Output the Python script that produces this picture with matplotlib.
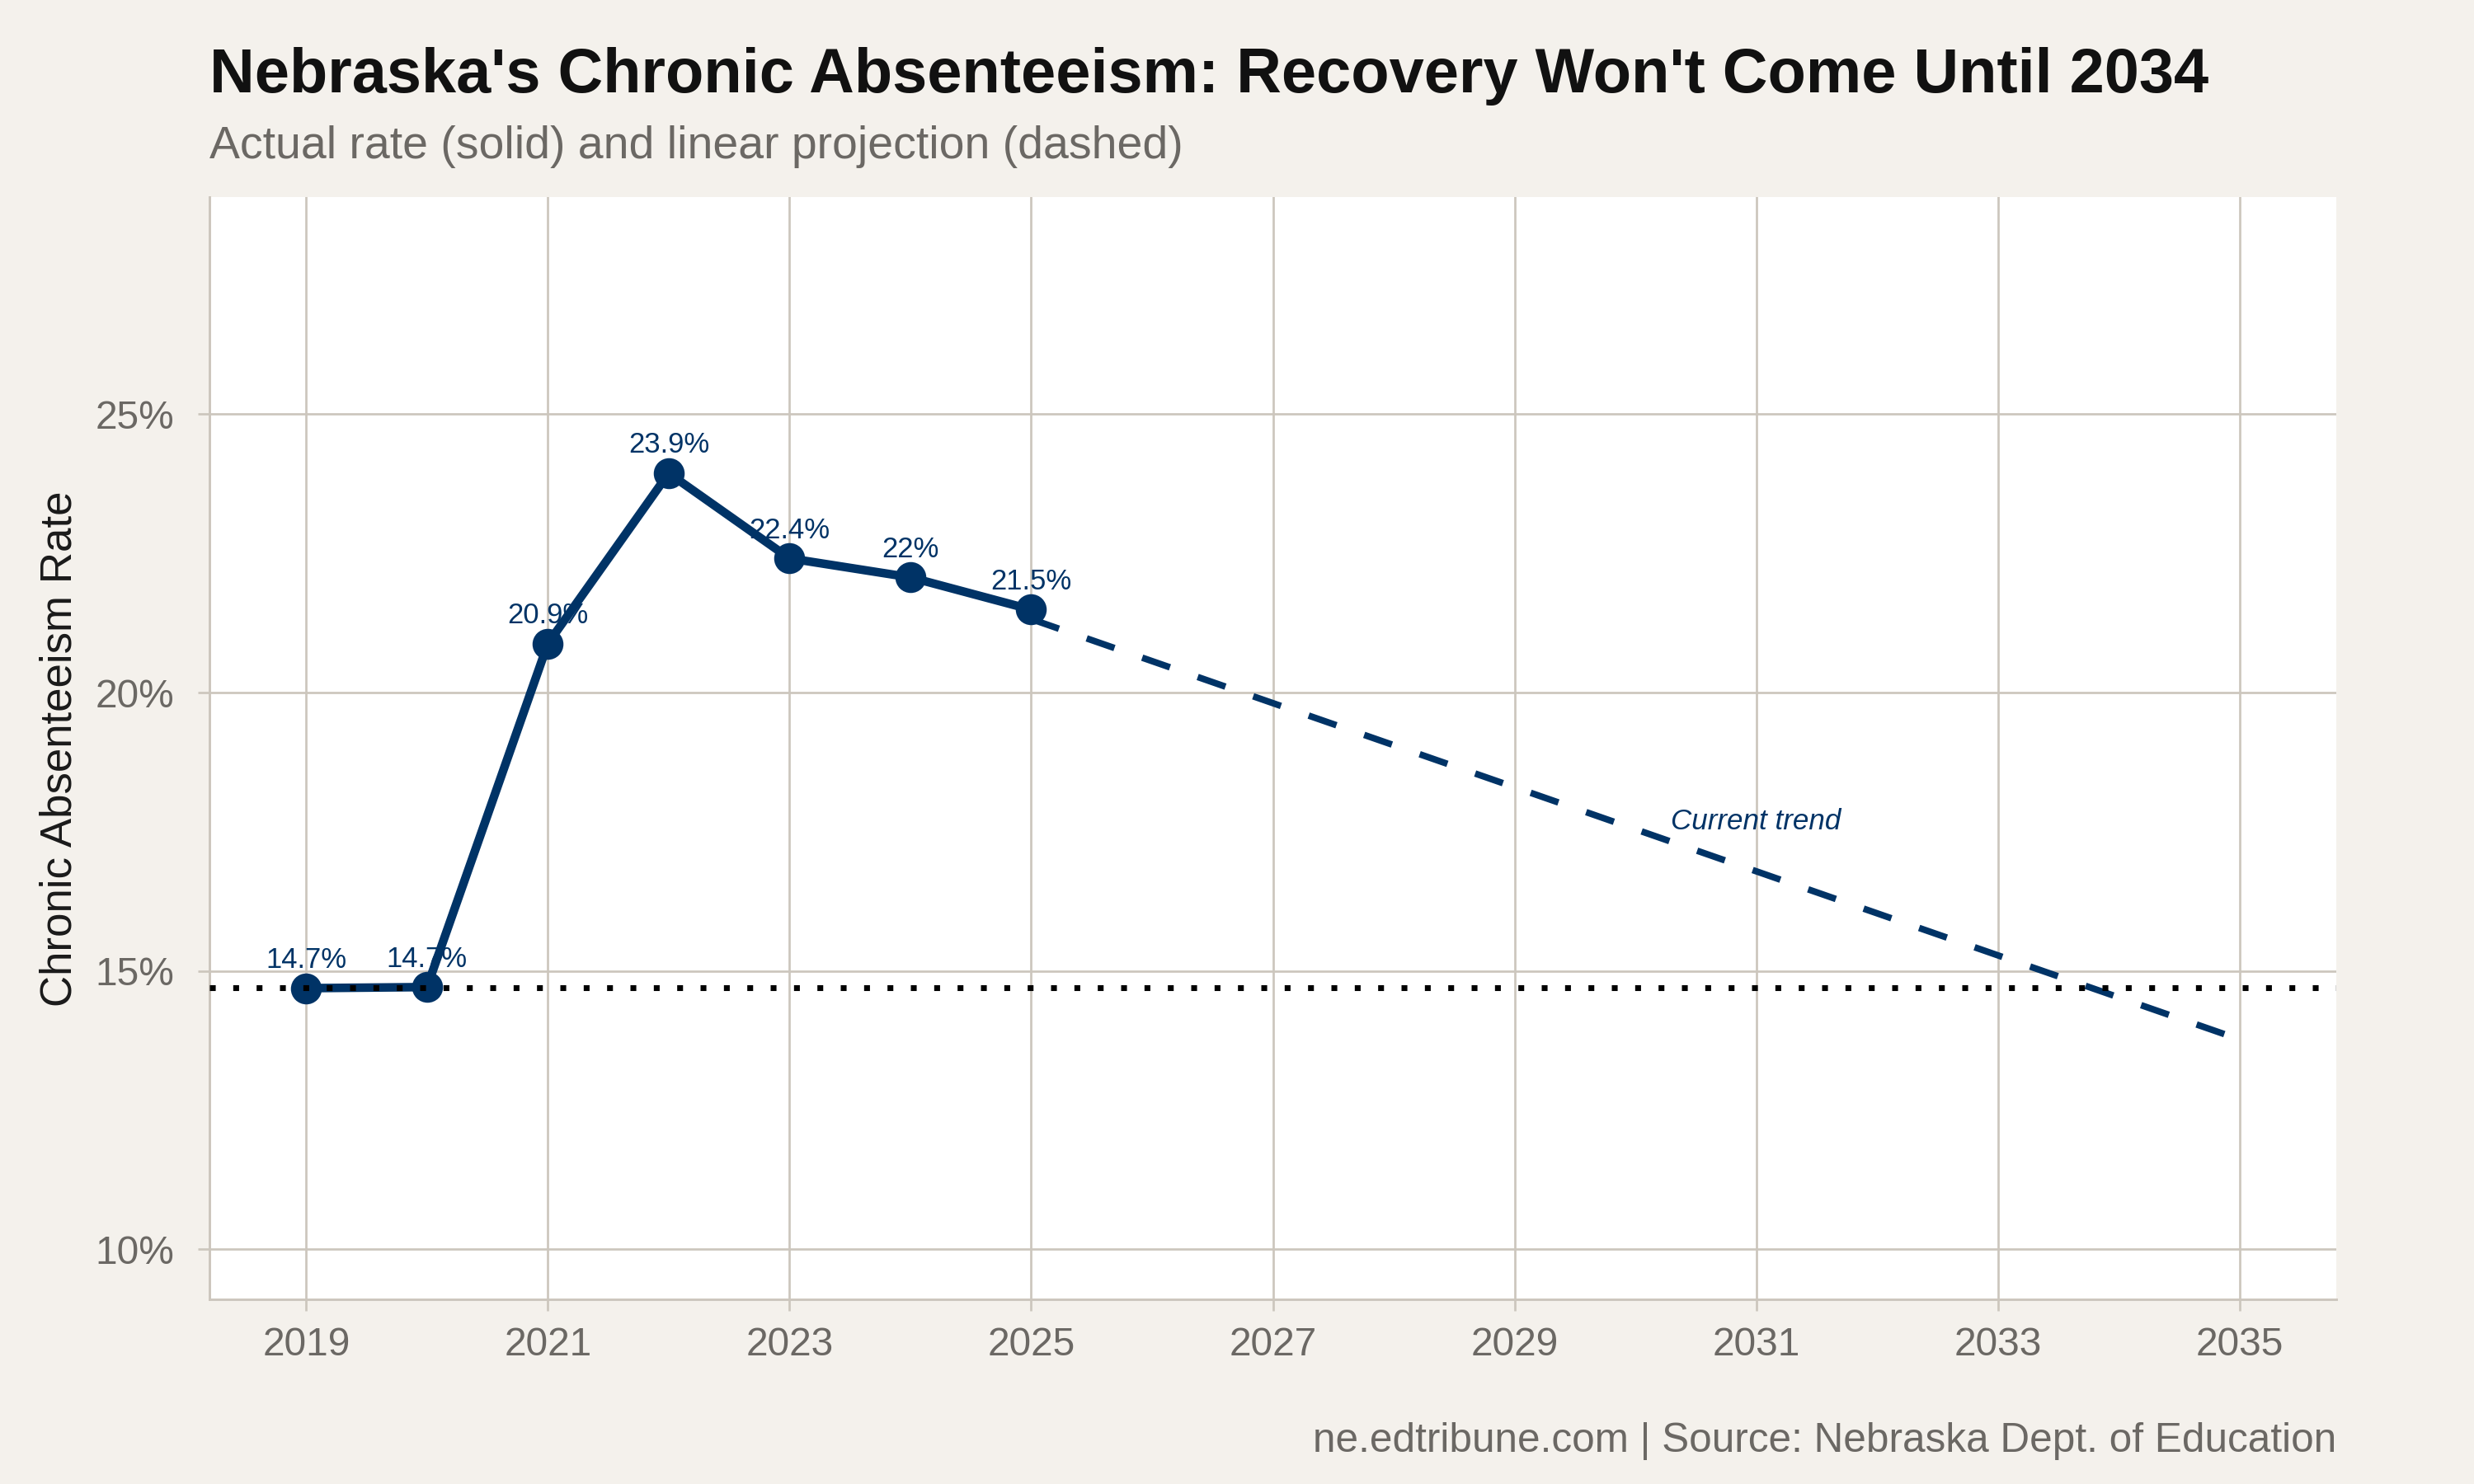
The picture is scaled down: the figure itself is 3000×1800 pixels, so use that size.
import matplotlib
matplotlib.use("Agg")
import matplotlib.pyplot as plt
from matplotlib.ticker import FixedLocator, FuncFormatter

plt.rcParams['font.family'] = ['Liberation Sans', 'DejaVu Sans']

# ---- data ----
years = [2019, 2020, 2021, 2022, 2023, 2024, 2025]
rates = [14.69, 14.71, 20.88, 23.94, 22.41, 22.07, 21.49]
labels = ["14.7%", "14.7%", "20.9%", "23.9%", "22.4%", "22%", "21.5%"]
proj_years = [2025, 2035]
proj_rates = [21.32, 13.77]
baseline_rate = 14.7
x_ticks = [2019, 2021, 2023, 2025, 2027, 2029, 2031, 2033, 2035]
y_ticks = [10, 15, 20, 25]

title = "Nebraska's Chronic Absenteeism: Recovery Won't Come Until 2034"
subtitle = "Actual rate (solid) and linear projection (dashed)"
caption = "ne.edtribune.com | Source: Nebraska Dept. of Education"
ylabel = "Chronic Absenteeism Rate"
trend_label = "Current trend"

# ---- style ----
NAVY = "#003366"
BG = "#F4F1EC"
GRID = "#CCC6BD"
GRAYTXT = "#6B6864"

fig = plt.figure(figsize=(10, 6), dpi=300, facecolor=BG)
ax = fig.add_axes([0.0847, 0.1244, 0.9443 - 0.0847, 0.8672 - 0.1244])
ax.set_facecolor("white")

ax.set_xlim(2018.2, 2035.8)
ax.set_ylim(9.1, 28.9)

ax.xaxis.set_major_locator(FixedLocator(x_ticks))
ax.yaxis.set_major_locator(FixedLocator(y_ticks))
ax.yaxis.set_major_formatter(FuncFormatter(lambda v, p: f"{v:.0f}%"))
ax.xaxis.set_major_formatter(FuncFormatter(lambda v, p: f"{v:.0f}"))

ax.grid(True, color=GRID, linewidth=0.65, zorder=0)
ax.set_axisbelow(True)
for s in ["top", "right"]:
    ax.spines[s].set_visible(False)
for s in ["left", "bottom"]:
    ax.spines[s].set_color(GRID)
    ax.spines[s].set_linewidth(0.7)
ax.tick_params(axis="both", colors=GRID, length=3.3, width=0.65,
               labelcolor=GRAYTXT, labelsize=11.5)
ax.tick_params(axis="x", pad=4.7)
ax.tick_params(axis="y", pad=7)

# projection (dashed)
ax.plot(proj_years, proj_rates, color=NAVY, linewidth=1.9,
        linestyle=(0, (4.5, 4.5)), dash_capstyle="butt", zorder=3)

# actual (solid)
ax.plot(years, rates, color=NAVY, linewidth=2.5, solid_capstyle="butt",
        marker="o", markersize=8, markerfacecolor=NAVY,
        markeredgecolor=NAVY, zorder=4)

# baseline (dotted)
ax.axhline(baseline_rate, color="black", linewidth=1.7,
           linestyle=(0, (1, 3.0)), zorder=5)

# data labels
for x, y, t in zip(years, rates, labels):
    ax.annotate(t, (x, y), xytext=(0, 5.9), textcoords="offset points",
                ha="center", va="baseline", fontsize=8.3, color=NAVY, zorder=6)

ax.text(2031.0, 17.54, trend_label, ha="center", va="baseline",
        fontsize=8.4, style="italic", color=NAVY, zorder=6)

# titles
fig.text(0.0847, 0.938, title, ha="left", va="baseline",
         fontsize=18.2, fontweight="bold", color="#111111")
fig.text(0.0847, 0.8935, subtitle, ha="left", va="baseline",
         fontsize=13.3, color=GRAYTXT)
fig.text(0.9443, 0.0218, caption, ha="right", va="baseline",
         fontsize=11.9, color=GRAYTXT)
fig.text(0.0325, 0.4956, ylabel, rotation=90, ha="right", va="center",
         fontsize=12.7, color="#1a1a1a")

fig.savefig("out.png", dpi=300, facecolor=BG)
